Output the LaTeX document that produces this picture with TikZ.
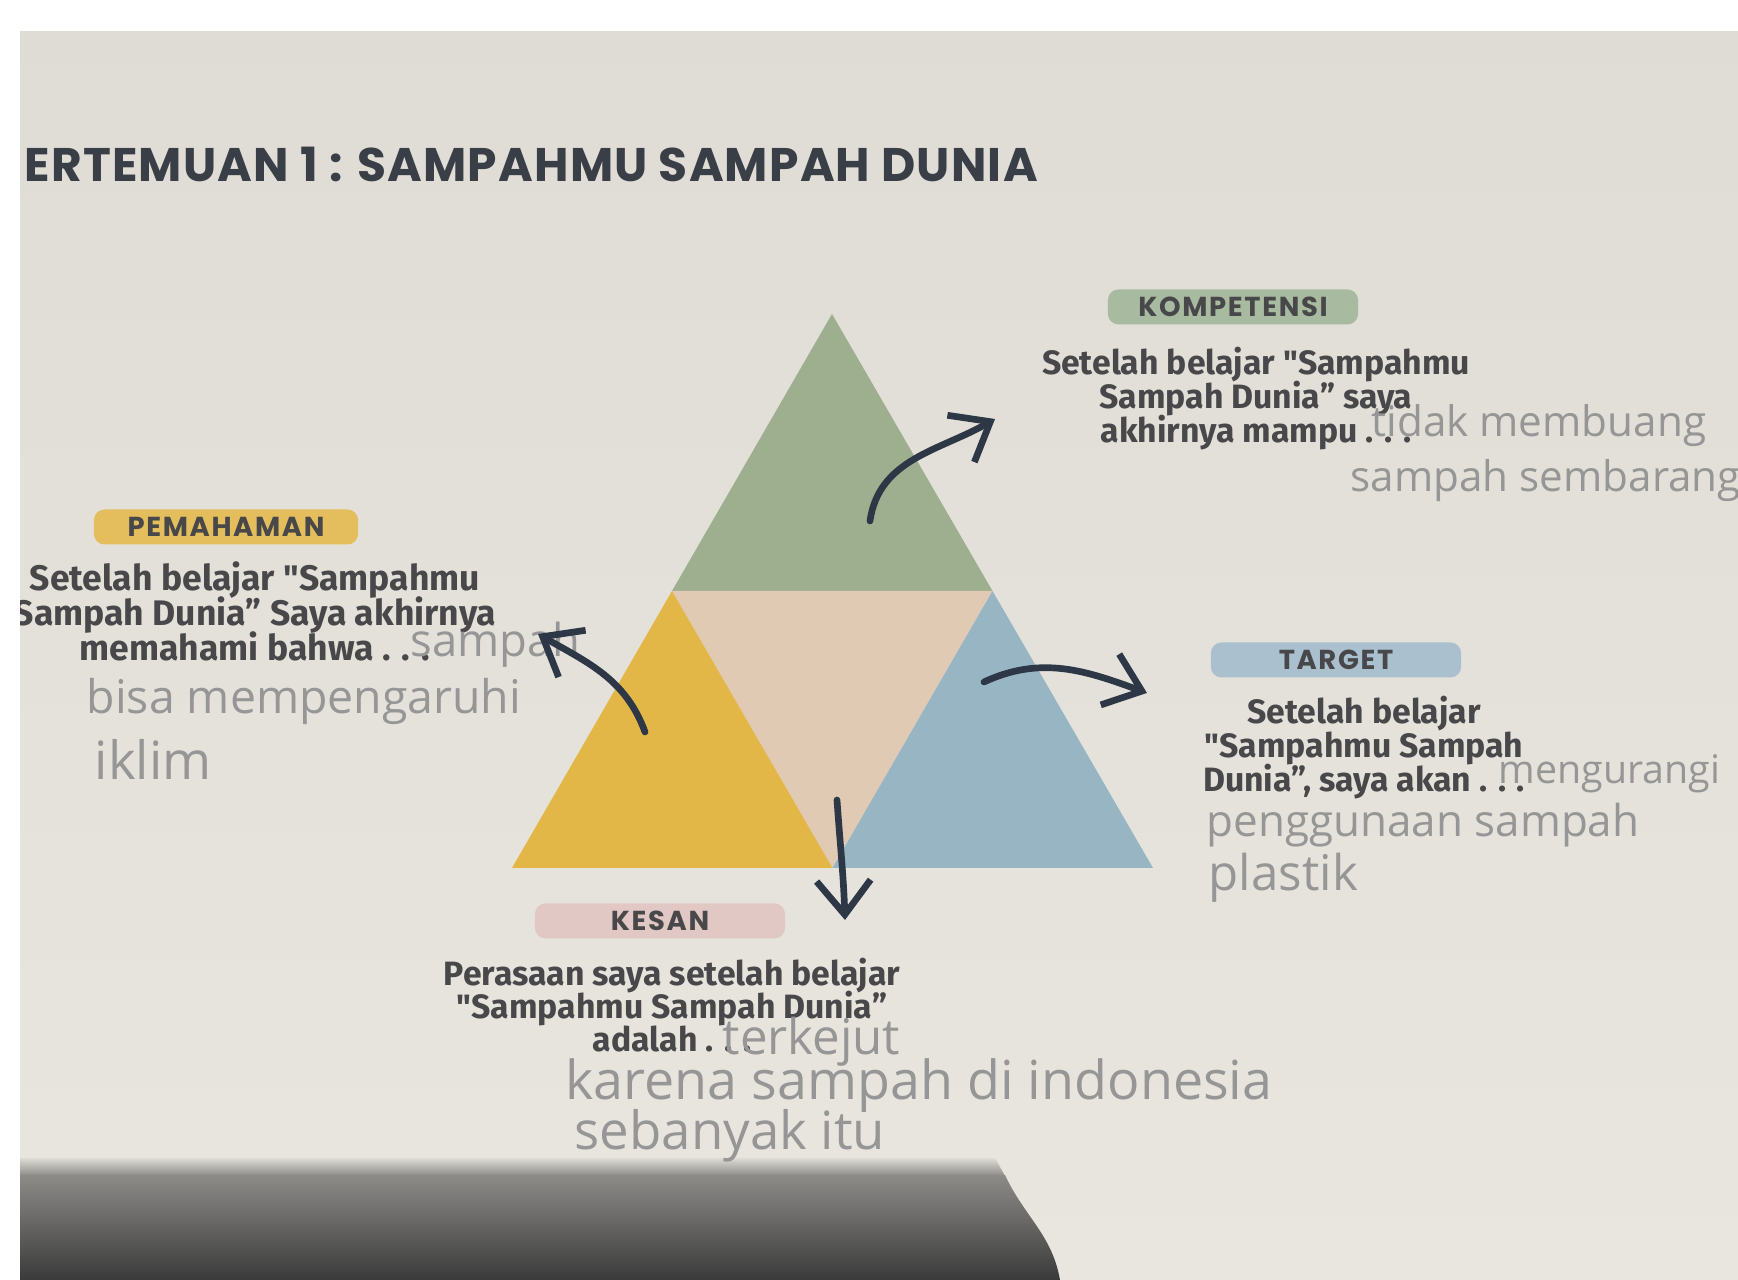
\documentclass[tikz,border=0pt]{standalone}
\usepackage{fontspec}
\setmainfont{Fira Sans}
\newfontfamily\headfont{Poppins}
\newfontfamily\handfont{Open Sans}
\usetikzlibrary{arrows.meta,positioning,calc}
\newcommand\dq{\XeTeXglyph\XeTeXcharglyph"22\relax}
\setlength{\lineskiplimit}{-\maxdimen}

\definecolor{paper}{RGB}{222,220,213}
\definecolor{paperlight}{RGB}{232,230,223}
\definecolor{shadowtop}{RGB}{140,139,136}
\definecolor{shadowink}{RGB}{58,58,58}
\definecolor{titleink}{RGB}{58,62,70}
\definecolor{inkgray}{RGB}{72,72,74}
\definecolor{arrowink}{RGB}{45,55,70}
\definecolor{pencil}{RGB}{150,150,150}
\definecolor{greenpiece}{RGB}{158,175,143}
\definecolor{yellowpiece}{RGB}{226,183,72}
\definecolor{beigepiece}{RGB}{224,202,180}
\definecolor{bluepiece}{RGB}{152,181,196}
\definecolor{kompfill}{RGB}{168,186,160}
\definecolor{pemfill}{RGB}{228,190,92}
\definecolor{targetfill}{RGB}{170,192,207}
\definecolor{kesanfill}{RGB}{226,200,196}

\begin{document}
\begin{tikzpicture}[
        x=0.01cm, y=-0.01cm,
        pill/.style={rectangle, rounded corners=3pt, minimum width=2.5cm, minimum height=0.35cm,
            inner sep=0pt, text=inkgray,
            font={\headfont\bfseries\fontsize{7.8}{8}\selectfont\addfontfeature{LetterSpace=6}}},
        bodytext/.style={align=center, inner sep=0pt, anchor=north, text=inkgray,
            font=\bfseries\fontsize{9.6}{#1}\selectfont},
        bodytext/.default=9.8pt,
        hand/.style={inner sep=0pt, anchor=base west, text=pencil,
            font=\handfont\fontsize{#1}{#1}\selectfont},
        hand/.default=15,
        arr/.style={-{Straight Barb[length=3.4mm,width=5.4mm]}, line width=1.9pt,
            draw=arrowink, line cap=round}
    ]
    \useasboundingbox (0,0) rectangle (1738,1280);

    % paper and shadow
    \shade[top color=paper, bottom color=paperlight] (0,0) rectangle (1738,1280);
    \shade[top color=paper, bottom color=shadowtop]
        (20,1158) -- (20,1176) -- (1005,1176) -- (995,1158) -- cycle;
    \shade[top color=shadowtop, bottom color=shadowink]
        (20,1280) -- (20,1175) -- (1005,1175) to[out=-65, in=100] (1060,1280) -- cycle;

    % title
    \node[anchor=base west, inner sep=0pt, text=titleink,
        font={\headfont\bfseries\fontsize{13.4}{14}\selectfont\addfontfeature{LetterSpace=2.5}}]
        (title) at (24,182) {ERTEMUAN 1 : SAMPAHMU SAMPAH DUNIA};

    % triangle pieces
    \coordinate (apex) at (832,314);
    \coordinate (left) at (512,868);
    \coordinate (right) at (1153,868);
    \coordinate (midl) at ($(apex)!0.5!(left)$);
    \coordinate (midr) at ($(apex)!0.5!(right)$);
    \coordinate (midb) at ($(left)!0.5!(right)$);
    \fill[greenpiece] (apex) -- (midl) -- (midr) -- cycle;
    \fill[beigepiece] (midl) -- (midr) -- (midb) -- cycle;
    \fill[yellowpiece] (midl) -- (left) -- (midb) -- cycle;
    \fill[bluepiece] (midr) -- (midb) -- (right) -- cycle;

    % KOMPETENSI
    \node[pill, fill=kompfill] (kompetensi) at (1233,307) {KOMPETENSI};
    \node[bodytext] (komptext) at (1256,346)
        {Setelah belajar \dq Sampahmu\\Sampah Dunia” saya\\akhirnya mampu . . .};
    \node[hand=12] (komphand1) at (1371,437) {tidak membuang};
    \node[hand=12] (komphand2) at (1350,492) {sampah sembarang};

    % PEMAHAMAN
    \node[pill, fill=pemfill, minimum width=2.64cm] (pemahaman) at (226,527) {PEMAHAMAN};
    \node[bodytext, font=\bfseries\fontsize{10.1}{9.9}\selectfont] (pemtext) at (255,561)
        {Setelah belajar \dq Sampahmu\\Sampah Dunia” Saya akhirnya\\memahami bahwa . . .};
    \node[hand=12.9] (pemhand1) at (410,657) {sampah};
    \node[hand=13.2] (pemhand2) at (86,714) {bisa mempengaruhi};
    \node[hand] (pemhand3) at (94,780) {iklim};

    % TARGET
    \node[pill, fill=targetfill] (target) at (1336,660) {TARGET};
    \node[bodytext=9.7pt] (targettext) at (1364,695)
        {Setelah belajar\\\dq Sampahmu Sampah\\Dunia”, saya akan . . .};
    \node[hand=11.2] (targethand1) at (1498,784) {mengurangi};
    \node[hand=12.5] (targethand2) at (1206,837) {penggunaan sampah};
    \node[hand=14] (targethand3) at (1208,891) {plastik};

    % KESAN
    \node[pill, fill=kesanfill] (kesan) at (660,921) {KESAN};
    \node[bodytext=9.5pt] (kesantext) at (672,957)
        {Perasaan saya setelah belajar\\\dq Sampahmu Sampah Dunia”\\adalah . . .};
    \node[hand=14] (kesanhand1) at (722,1055) {terkejut};
    \node[hand=15.3] (kesanhand2) at (565,1100) {karena sampah di indonesia};
    \node[hand] (kesanhand3) at (574,1150) {sebanyak itu};

    % arrows out of the pieces
    \coordinate (greenout) at (870,521);
    \coordinate (kompin) at (995,419);
    \coordinate (yellowout) at (645,732);
    \coordinate (pemin) at (538,634);
    \coordinate (blueout) at (984,682);
    \coordinate (targetin) at (1147,693);
    \coordinate (beigeout) at (837,800);
    \coordinate (kesanin) at (845,920);
    \draw[arr] (greenout) to[out=82, in=210] (kompin);
    \draw[arr] (yellowout) to[out=110, in=-30] (pemin);
    \draw[arr] (blueout) to[out=25, in=160] (targetin);
    \draw[arr] (beigeout) to[out=-86, in=92] (kesanin);

    % photo margins
    \fill[white] (0,0) rectangle (1738,31);
    \fill[white] (0,0) rectangle (20,1280);
\end{tikzpicture}
\end{document}
